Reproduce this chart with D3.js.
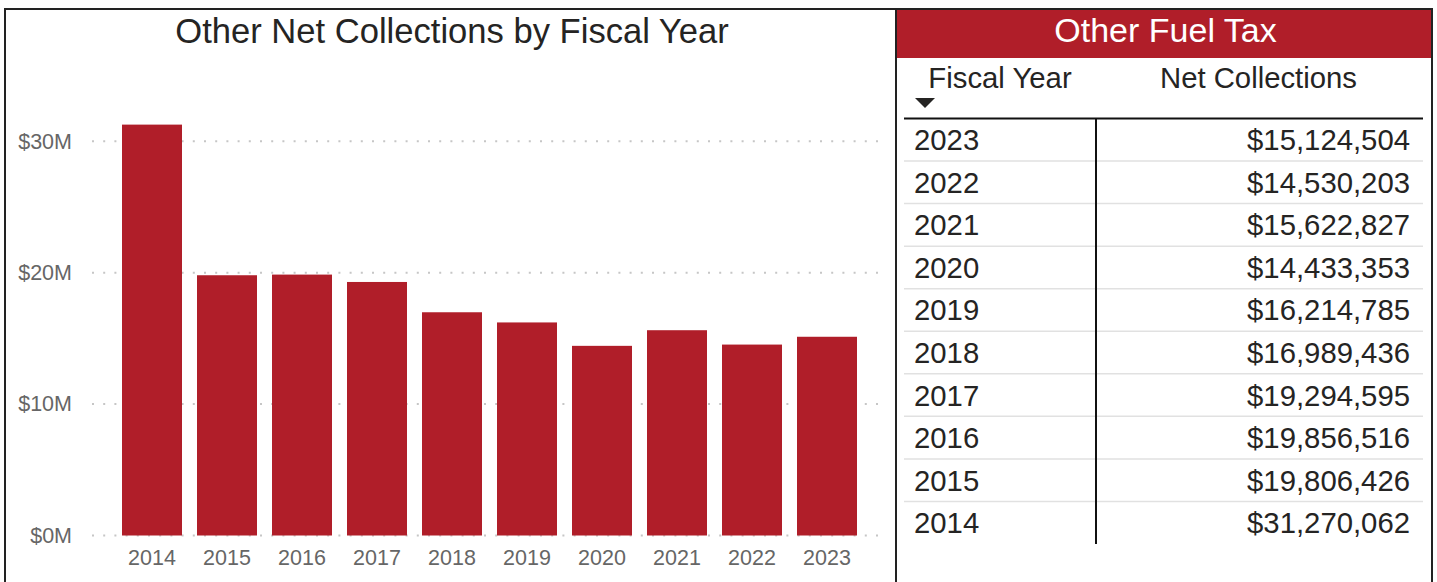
<!DOCTYPE html>
<html>
<head>
<meta charset="utf-8">
<script src="https://cdn.jsdelivr.net/npm/d3@7"></script>
<style>
  html, body { margin: 0; padding: 0; background: #fff; }
  svg { display: block; font-family: "Liberation Sans", Arial, sans-serif; }
</style>
</head>
<body>
<svg id="chart" width="1437" height="582"></svg>
<script>
// Fiscal years and net collections (USD)
const fiscalYears = [2014, 2015, 2016, 2017, 2018, 2019, 2020, 2021, 2022, 2023];
const netCollections = [31270062, 19806426, 19856516, 19294595, 16989436, 16214785, 14433353, 15622827, 14530203, 15124504];
const yTicks = [0, 10e6, 20e6, 30e6];
const chartTitle = "Other Net Collections by Fiscal Year";
const tableTitle = "Other Fuel Tax";
const tableHeaders = ["Fiscal Year", "Net Collections"];

const RED = "#B01E29";
const svg = d3.select("#chart");

// ---------- Left panel: bar chart ----------
svg.append("rect")
  .attr("x", 5).attr("y", 9).attr("width", 891).attr("height", 590)
  .attr("fill", "#fff").attr("stroke", "#222").attr("stroke-width", 2);

svg.append("text")
  .attr("x", 452).attr("y", 43)
  .attr("text-anchor", "middle")
  .attr("font-size", 34.6).attr("fill", "#252423")
  .text(chartTitle);

const x = d3.scaleBand()
  .domain(fiscalYears)
  .range([114.5, 864.5])
  .paddingInner(0.2)
  .paddingOuter(0.1);

const y = d3.scaleLinear()
  .domain([0, 30e6])
  .range([535.5, 141.3]);

// Dotted gridlines
svg.append("g").selectAll("line")
  .data(yTicks)
  .join("line")
  .attr("x1", 92).attr("x2", 886)
  .attr("y1", d => y(d)).attr("y2", d => y(d))
  .attr("stroke", "#c6c6c6").attr("stroke-width", 2)
  .attr("stroke-dasharray", "2,9.2");

// Y axis labels
const yAxis = d3.axisLeft(y)
  .tickValues(yTicks)
  .tickSize(0)
  .tickPadding(0)
  .tickFormat(d => "$" + d3.format("d")(d / 1e6) + "M");
const gy = svg.append("g").attr("transform", "translate(72,0)").call(yAxis);
gy.select(".domain").remove();
gy.selectAll("text")
  .attr("font-family", "\"Liberation Sans\", Arial, sans-serif")
  .attr("font-size", 21.5).attr("fill", "#666");

// Bars
svg.append("g").selectAll("rect")
  .data(fiscalYears.map((yr, i) => ({ yr, v: netCollections[i] })))
  .join("rect")
  .attr("x", d => x(d.yr))
  .attr("width", x.bandwidth())
  .attr("y", d => y(d.v))
  .attr("height", d => y(0) - y(d.v))
  .attr("fill", RED);

// X axis labels
const xAxis = d3.axisBottom(x).tickSize(0).tickPadding(0);
const gx = svg.append("g").attr("transform", "translate(0,546)").call(xAxis);
gx.select(".domain").remove();
gx.selectAll("text")
  .attr("font-family", "\"Liberation Sans\", Arial, sans-serif")
  .attr("font-size", 21.5).attr("fill", "#666")
  .attr("dy", "0.9em");

// ---------- Right panel: table ----------
svg.append("rect")
  .attr("x", 896).attr("y", 9).attr("width", 536).attr("height", 590)
  .attr("fill", "#fff").attr("stroke", "#222").attr("stroke-width", 2);

svg.append("rect")
  .attr("x", 897).attr("y", 10).attr("width", 534).attr("height", 48)
  .attr("fill", RED);

svg.append("text")
  .attr("x", 1165.5).attr("y", 42)
  .attr("text-anchor", "middle")
  .attr("font-size", 34).attr("fill", "#fff")
  .text(tableTitle);

const tblLeft = 904, tblRight = 1423, colSplit = 1096;
const headerLine = 118.5, rowH = 42.55;
const FS = 29.3;

svg.append("text")
  .attr("x", (tblLeft + colSplit) / 2).attr("y", 88)
  .attr("text-anchor", "middle")
  .attr("font-size", FS).attr("fill", "#252423")
  .text(tableHeaders[0]);
svg.append("text")
  .attr("x", (colSplit + tblRight) / 2 - 1).attr("y", 88)
  .attr("text-anchor", "middle")
  .attr("font-size", FS).attr("fill", "#252423")
  .text(tableHeaders[1]);

// Sort indicator (descending)
svg.append("path")
  .attr("d", "M915,98 L935,98 L925,108 Z")
  .attr("fill", "#252423");

const rows = fiscalYears.map((yr, i) => ({ yr, v: netCollections[i] }))
  .sort((a, b) => b.yr - a.yr);

const fmt = d3.format("$,.0f");

// Row separators
svg.append("g").selectAll("line")
  .data(rows.slice(1))
  .join("line")
  .attr("x1", tblLeft).attr("x2", tblRight)
  .attr("y1", (d, i) => headerLine + rowH * (i + 1))
  .attr("y2", (d, i) => headerLine + rowH * (i + 1))
  .attr("stroke", "#e1e1e1").attr("stroke-width", 1.5);

const rowG = svg.append("g").selectAll("g")
  .data(rows)
  .join("g")
  .attr("transform", (d, i) => `translate(0,${headerLine + rowH * i + rowH / 2 + 10.5})`);

rowG.append("text")
  .attr("x", tblLeft + 10)
  .attr("font-size", FS).attr("fill", "#252423")
  .text(d => d.yr);

rowG.append("text")
  .attr("x", tblRight - 13)
  .attr("text-anchor", "end")
  .attr("font-size", FS).attr("fill", "#252423")
  .text(d => fmt(d.v));

// Header underline and column divider
svg.append("line")
  .attr("x1", tblLeft).attr("x2", tblRight)
  .attr("y1", headerLine).attr("y2", headerLine)
  .attr("stroke", "#111").attr("stroke-width", 2);
svg.append("line")
  .attr("x1", colSplit).attr("x2", colSplit)
  .attr("y1", headerLine).attr("y2", headerLine + rowH * rows.length)
  .attr("stroke", "#111").attr("stroke-width", 2);
</script>
</body>
</html>
